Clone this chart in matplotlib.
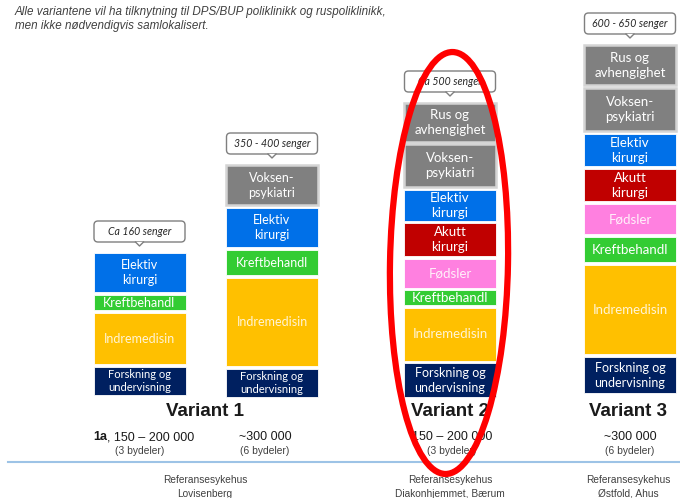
import matplotlib
matplotlib.use("Agg")
import matplotlib.pyplot as plt
from matplotlib.patches import FancyBboxPatch, Ellipse, Polygon

# Data: segments from bottom to top per column (label, height in px)
col_centers = [139.5, 272, 450, 630]
col_callouts = ["Ca 160 senger", "350 - 400 senger", "Ca 500 senger", "600 - 650 senger"]

col1_labels = ["Forskning og\nundervisning", "Indremedisin", "Kreftbehandl", "Elektiv\nkirurgi"]
col1_heights = [28, 51, 15, 39]

col2_labels = ["Forskning og\nundervisning", "Indremedisin", "Kreftbehandl", "Elektiv\nkirurgi", "Voksen-\npsykiatri"]
col2_heights = [28, 88, 25, 39, 40]

col3_labels = ["Forskning og\nundervisning", "Indremedisin", "Kreftbehandl", "Fødsler",
               "Akutt\nkirurgi", "Elektiv\nkirurgi", "Voksen-\npsykiatri", "Rus og\navhengighet"]
col3_heights = [34, 53, 15, 29, 33, 31, 43, 39]

col4_labels = ["Forskning og\nundervisning", "Indremedisin", "Kreftbehandl", "Fødsler",
               "Akutt\nkirurgi", "Elektiv\nkirurgi", "Voksen-\npsykiatri", "Rus og\navhengighet"]
col4_heights = [36, 89, 25, 30, 32, 32, 43, 40]

variant_names = ["Variant 1", "Variant 2", "Variant 3"]
variant_x = [205, 450, 628]

pop_labels = ["150 – 200 000", "~300 000", "150 – 200 000", "~300 000"]
pop_sub = ["(3 bydeler)", "(6 bydeler)", "(3 bydeler)", "(6 bydeler)"]
pop_x = [140, 265, 452, 630]

ref_labels = ["Referansesykehus\nLovisenberg", "Referansesykehus\nDiakonhjemmet, Bærum",
              "Referansesykehus\nØstfold, Ahus"]

colors = {
    "Forskning": "#002060", "Indremedisin": "#ffc000", "Kreftbehandl": "#33cc33",
    "Fødsler": "#ff80e0", "Akutt": "#c00000", "Elektiv": "#0070e8",
    "Voksen-": "#808080", "Rus": "#808080",
}

fig = plt.figure(figsize=(6.8, 4.98), dpi=100)
ax = fig.add_axes([0, 0, 1, 1])
ax.set_xlim(0, 680)
ax.set_ylim(498, 0)
ax.axis("off")

body_font = ["Lato", "DejaVu Sans"]
arial = ["Liberation Sans", "DejaVu Sans"]

bases = [395, 397, 397, 393]
gap = 3
width = 92
columns = [(col1_labels, col1_heights), (col2_labels, col2_heights),
           (col3_labels, col3_heights), (col4_labels, col4_heights)]

for i, (labels, heights) in enumerate(columns):
    xc = col_centers[i]
    y = bases[i]
    g = 2.5 if i == 2 else gap
    for lab, h in zip(labels, heights):
        key = lab.split()[0]
        c = colors[key]
        top = y - h
        gray = c == "#808080"
        ax.bar(xc, h, bottom=top, width=width, color=c,
               edgecolor="#d4d4d4" if gray else "white", linewidth=1.8 if gray else 0.6)
        tc = "white"
        if key == "Indremedisin":
            tc = "#fff4d6"
        elif key == "Fødsler":
            tc = "#fff0fa"
        fs = 9.5 if i >= 2 else 9
        if key == "Forskning":
            fs = 9 if i >= 2 else 8
        ax.text(xc, top + h / 2, lab, ha="center", va="center", color=tc,
                fontsize=fs, family=body_font, linespacing=1.3)
        y = top - g
    # callout
    cb = y - 8
    ch = 21
    cw = 91
    box = FancyBboxPatch((xc - cw / 2, cb - ch), cw, ch,
                         boxstyle="round,pad=0,rounding_size=4",
                         facecolor="white", edgecolor="#7f7f7f", linewidth=1)
    ax.add_patch(box)
    ax.add_patch(Polygon([(xc - 4, cb), (xc, cb + 4), (xc + 4, cb)], closed=True,
                         facecolor="white", edgecolor="none", zorder=3))
    ax.plot([xc - 4, xc, xc + 4], [cb, cb + 4, cb], color="#7f7f7f", lw=1, zorder=4)
    ax.text(xc, cb - ch / 2, col_callouts[i], ha="center", va="center",
            fontsize=7.6, style="italic", color="#262626", family=body_font)

# top note
ax.text(15, 19, "Alle variantene vil ha tilknytning til DPS/BUP poliklinikk og ruspoliklinikk,\n"
        "men ikke nødvendigvis samlokalisert.", ha="left", va="center", fontsize=8.4,
        style="italic", color="#404040", family=arial, linespacing=1.3)

for name, x in zip(variant_names, variant_x):
    ax.text(x, 411, name, ha="center", va="center", fontsize=13.5,
            fontweight="bold", color="#1a1a1a", family=arial)

for i, (lab, sub, x) in enumerate(zip(pop_labels, pop_sub, pop_x)):
    if i == 0:
        ax.text(107, 437, "1a", ha="right", va="center", fontsize=9,
                fontweight="bold", color="#1a1a1a", family=arial)
        ax.text(107, 437, ", " + lab, ha="left", va="center", fontsize=9,
                color="#1a1a1a", family=arial)
    else:
        ax.text(x, 437, lab, ha="center", va="center", fontsize=9,
                color="#1a1a1a", family=arial)
    ax.text(x, 451, sub, ha="center", va="center", fontsize=7.4,
            color="#404040", family=arial)

ax.plot([8, 680], [462, 462], color="#9dc3e6", lw=1.5)

for lab, x in zip(ref_labels, variant_x):
    ax.text(x, 487, lab, ha="center", va="center", fontsize=7.3,
            color="#404040", family=arial, linespacing=1.45)

ax.add_patch(Ellipse((449, 263), 118, 422, angle=1, fill=False,
                     edgecolor="#ff0000", linewidth=4.5, zorder=10))

fig.savefig("out.png", dpi=100)
